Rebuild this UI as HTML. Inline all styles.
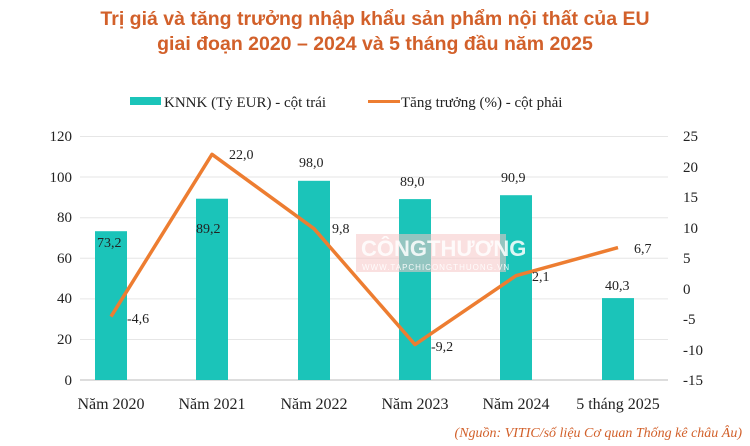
<!DOCTYPE html>
<html><head><meta charset="utf-8"><style>body{margin:0;background:#fff}svg{display:block}</style></head><body>
<svg width="750" height="446" xmlns="http://www.w3.org/2000/svg" font-family="Liberation Serif, serif">
<text x="375" y="25" text-anchor="middle" font-family="Liberation Sans, sans-serif" font-weight="bold" font-size="19.5" fill="#D2602A">Trị giá và tăng trưởng nhập khẩu sản phẩm nội thất của EU</text>
<text x="375" y="50" text-anchor="middle" font-family="Liberation Sans, sans-serif" font-weight="bold" font-size="19.5" fill="#D2602A">giai đoạn 2020 – 2024 và 5 tháng đầu năm 2025</text>
<rect x="130" y="97" width="31" height="8" fill="#1BC4B9"/>
<text x="164" y="107" font-size="15" fill="#222">KNNK (Tỷ EUR) - cột trái</text>
<rect x="368" y="100" width="32" height="3" fill="#ED7D31"/>
<text x="401" y="107" font-size="15" fill="#222">Tăng trưởng (%) - cột phải</text>
<g stroke="#e6e6e6" stroke-width="1">
<line x1="80" y1="136.5" x2="668" y2="136.5"/><line x1="80" y1="177" x2="668" y2="177"/><line x1="80" y1="217.7" x2="668" y2="217.7"/><line x1="80" y1="258.3" x2="668" y2="258.3"/><line x1="80" y1="298.9" x2="668" y2="298.9"/><line x1="80" y1="339.5" x2="668" y2="339.5"/>
</g>
<line x1="80" y1="380" x2="668" y2="380" stroke="#bbb"/>
<g font-size="15" fill="#222" text-anchor="end">
<text x="72" y="141">120</text><text x="72" y="182">100</text><text x="72" y="222">80</text><text x="72" y="263">60</text><text x="72" y="303">40</text><text x="72" y="344">20</text><text x="72" y="385">0</text>
</g>
<g font-size="15" fill="#222">
<text x="683" y="141">25</text><text x="683" y="172">20</text><text x="683" y="202">15</text><text x="683" y="233">10</text><text x="683" y="263">5</text><text x="683" y="294">0</text><text x="683" y="324">-5</text><text x="683" y="355">-10</text><text x="683" y="385">-15</text>
</g>
<g fill="#1BC4B9">
<rect x="95" y="231.2" width="32" height="148.8"/><rect x="196" y="198.7" width="32" height="181.3"/><rect x="298" y="180.8" width="32" height="199.2"/><rect x="399" y="199.1" width="32" height="180.9"/><rect x="500" y="195.2" width="32" height="184.8"/><rect x="602" y="298.1" width="32" height="81.9"/>
</g>
<rect x="356" y="234" width="150" height="38" fill="#f6c6c6" opacity="0.55"/>
<g font-family="Liberation Sans, sans-serif" font-weight="bold" font-size="22" fill="#ffffff" opacity="0.85"><text x="361" y="256">CÔNGTHƯƠNG</text></g>
<g font-family="Liberation Sans, sans-serif" font-size="8" fill="#ffffff" opacity="0.9"><text x="362" y="270" letter-spacing="1">WWW.TAPCHICONGTHUONG.VN</text></g>
<polyline fill="none" stroke="#ED7D31" stroke-width="3.5" stroke-linejoin="round" points="111,316.6 212,154.3 314,228.7 415,344.6 516,275.7 618,247.6"/>
<g font-size="14" fill="#222">
<text x="97" y="247">73,2</text><text x="196" y="233">89,2</text><text x="299" y="167">98,0</text><text x="400" y="186">89,0</text><text x="501" y="182">90,9</text><text x="605" y="290">40,3</text>
<text x="127" y="323">-4,6</text><text x="229" y="159">22,0</text><text x="332" y="233">9,8</text><text x="431" y="351">-9,2</text><text x="532" y="281">2,1</text><text x="634" y="253">6,7</text>
</g>
<g font-size="16" fill="#222" text-anchor="middle">
<text x="111" y="409">Năm 2020</text><text x="212" y="409">Năm 2021</text><text x="314" y="409">Năm 2022</text><text x="415" y="409">Năm 2023</text><text x="516" y="409">Năm 2024</text><text x="618" y="409">5 tháng 2025</text>
</g>
<text x="742" y="437" text-anchor="end" font-size="14" font-style="italic" fill="#D2602A">(Nguồn: VITIC/số liệu Cơ quan Thống kê châu Âu)</text>
</svg>
</body></html>
